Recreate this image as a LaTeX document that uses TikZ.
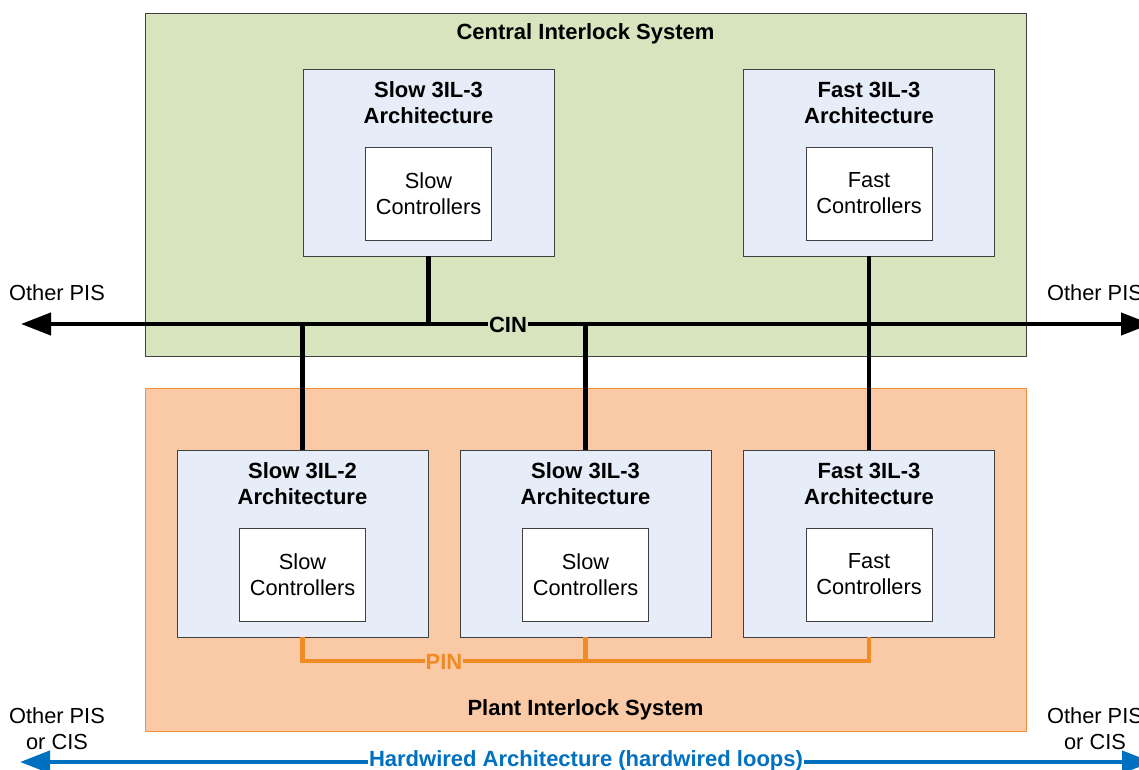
\documentclass[tikz,border=0pt]{standalone}
\usepackage{fontspec}
\setmainfont{Liberation Sans}
\usetikzlibrary{arrows.meta}
\definecolor{cisgreen}{HTML}{D7E4BD}
\definecolor{pisfill}{HTML}{FAC9A5}
\definecolor{pisborder}{HTML}{F0903C}
\definecolor{archfill}{HTML}{E6EDF8}
\definecolor{boxborder}{HTML}{404040}
\definecolor{pinorange}{HTML}{F08A24}
\definecolor{hwblue}{HTML}{0070C0}
\begin{document}
\begin{tikzpicture}[x=1pt,y=-1pt,
  font=\fontsize{21.8}{26}\selectfont,
  system/.style={draw=#1, line width=0.9pt, rectangle, inner sep=0pt, minimum width=881pt, minimum height=343pt},
  archbox/.style={draw=boxborder, fill=archfill, line width=0.9pt, rectangle, inner sep=0pt, minimum width=251pt, minimum height=187pt},
  ctrlbox/.style={draw=boxborder, fill=white, line width=0.9pt, rectangle, inner sep=0pt, minimum width=126pt, minimum height=93pt, align=center},
  archtitle/.style={font=\fontsize{22}{26}\selectfont\bfseries, align=center, inner sep=0pt},
  bus/.style={line width=4.2pt, black},
  pinline/.style={line width=4.2pt, pinorange},
  hwline/.style={line width=4.2pt, hwblue},
  plain/.style={align=center, inner sep=0pt}
]
\useasboundingbox (0,0) rectangle (1139,770);

% system boxes
\node[system=boxborder, fill=cisgreen] (cis) at (585.5,184.5) {};
\node[system=pisborder, fill=pisfill] (pis) at (585.5,559.5) {};
\node[archtitle] (cistitle) at (585.5,34) {Central Interlock System};
\node[archtitle] (pistitle) at (585.5,710) {Plant Interlock System};

% top architecture boxes
\node[archbox] (tslow) at (428.5,162.5) {};
\node[archbox] (tfast) at (869,162.5) {};
\node[archtitle] (tslowt) at (428.5,103) {Slow 3IL-3\\Architecture};
\node[archtitle] (tfastt) at (869,103) {Fast 3IL-3\\Architecture};
\node[ctrlbox] (tslowc) at (428.5,193.5) {Slow\\Controllers};
\node[ctrlbox] (tfastc) at (869,193.5) {Fast\\Controllers};

% bottom architecture boxes
\node[archbox] (bslow2) at (302.5,543.5) {};
\node[archbox] (bslow3) at (585.5,543.5) {};
\node[archbox] (bfast) at (869,543.5) {};
\node[archtitle] (bslow2t) at (302.5,484) {Slow 3IL-2\\Architecture};
\node[archtitle] (bslow3t) at (585.5,484) {Slow 3IL-3\\Architecture};
\node[archtitle] (bfastt) at (869,484) {Fast 3IL-3\\Architecture};
\node[ctrlbox] (bslow2c) at (302.5,574.5) {Slow\\Controllers};
\node[ctrlbox] (bslow3c) at (585.5,574.5) {Slow\\Controllers};
\node[ctrlbox] (bfastc) at (869,574.5) {Fast\\Controllers};

% CIN bus
\coordinate (cinL) at (21,324);
\coordinate (cinR) at (1151,324);
\draw[bus, {Triangle[length=30pt,width=22pt]}-{Triangle[length=30pt,width=22pt]}] (cinL) -- (cinR);
\draw[bus] (tslow.south) -- (tslow.south |- cinL);
\draw[bus] (tfast.south) -- (bfast.north);
\draw[bus] (bslow2.north) -- (bslow2.north |- cinL);
\draw[bus] (bslow3.north) -- (bslow3.north |- cinL);
\node[archtitle, fill=cisgreen, inner xsep=1pt, inner ysep=2pt] (cin) at (508,325) {CIN};

% PIN
\coordinate (pinY) at (0,661);
\draw[pinline] (bslow2.south) -- (bslow2.south |- pinY) -- (bfast.south |- pinY) -- (bfast.south);
\draw[pinline] (bslow3.south) -- (bslow3.south |- pinY);
\node[archtitle, text=pinorange, fill=pisfill, inner xsep=1pt, inner ysep=2pt] (pin) at (444,662) {PIN};

% Hardwired
\coordinate (hwL) at (20,762);
\coordinate (hwR) at (1152,762);
\draw[hwline, {Triangle[length=30pt,width=22pt]}-{Triangle[length=30pt,width=22pt]}] (hwL) -- (hwR);
\node[archtitle, text=hwblue, fill=white, inner xsep=1pt, inner ysep=1pt] (hw) at (586,761) {Hardwired Architecture (hardwired loops)};

% side labels
\node[plain] (opl) at (57,293) {Other PIS};
\node[plain] (opr) at (1095,293) {Other PIS};
\node[plain] (ocl) at (57,729) {Other PIS\\or CIS};
\node[plain] (ocr) at (1095,729) {Other PIS\\or CIS};
\end{tikzpicture}
\end{document}
